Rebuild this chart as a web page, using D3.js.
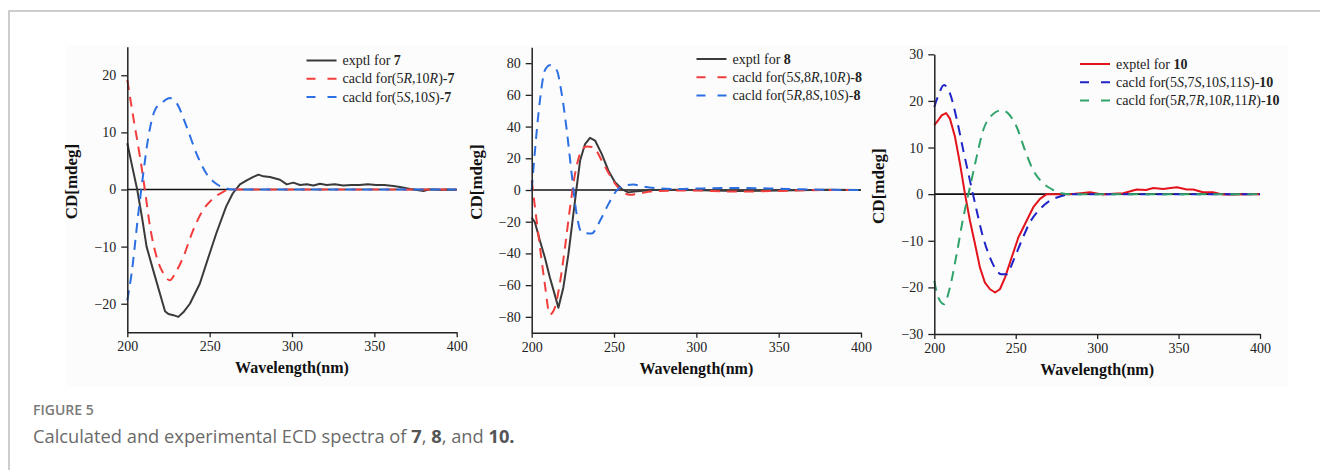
<!DOCTYPE html>
<html>
<head>
<meta charset="utf-8">
<script src="https://cdn.jsdelivr.net/npm/d3@7"></script>
<style>
  body { margin: 0; background: #fff; }
  svg { display: block; }
</style>
</head>
<body>
<div id="fig"></div>
<script>
// ---- data (wavelength nm, CD mdeg) ----
var xTicks = [200, 250, 300, 350, 400];

var exptl7 = [[200,8.1],[203,4],[206,0],[209,-5],[211.7,-10],[215.8,-14.2],[219.8,-18.2],[222.9,-21.3],[225,-21.8],[228,-22],[231,-22.3],[234,-21.5],[238,-20],[244,-16.5],[250,-11.2],[254,-7.7],[260,-3],[264,-0.7],[268.4,0.9],[272.5,1.6],[276.5,2.2],[279.6,2.6],[282.6,2.3],[286.6,2.2],[292.7,1.7],[296.8,0.9],[300.8,1.2],[304.9,0.8],[309,0.9],[313,0.7],[317,1],[321,0.8],[326,0.9],[331,0.7],[336,0.8],[341,0.8],[346,0.9],[351,0.8],[356,0.8],[361.5,0.6],[365.6,0.45],[371.7,0.1],[376,-0.1],[379.8,-0.25],[383,0],[386,0],[390,-0.1],[394,0],[400,-0.1]];
var calc7RR = [[200,19.2],[203.6,12.7],[207.7,5.7],[210.7,-0.1],[213.8,-6.5],[217.8,-11.8],[221.9,-14.7],[225.9,-15.9],[229,-14.7],[234,-11.8],[240,-7.1],[246,-3.6],[252,-1.6],[258.3,-0.4],[262,0],[280,0],[300,0],[350,0],[400,0]];
var calc7SS = [[200,-19.4],[202.6,-14.7],[206.7,-4.2],[209.7,2.8],[212.8,9.2],[216.8,13.9],[221.9,15.4],[225.9,16],[230,15.1],[236,11],[242,6.3],[248,2.8],[254,1],[260,0.2],[264,0],[280,0],[300,0],[350,0],[400,0]];

var exptl8 = [[200,-17.3],[202,-20.5],[205,-32],[208,-42.6],[211,-55],[214,-66],[216.2,-74.3],[219.2,-61.6],[222.3,-40.5],[225.3,-15.2],[227.3,1.7],[229.4,18.6],[232.4,29],[235.4,32.9],[238.5,31.2],[242.5,22.8],[246.6,12.2],[250.6,4.9],[254.7,0.6],[258.7,-1.5],[263.8,-0.8],[274,0],[290,0.2],[310,-0.3],[325,-0.6],[340,-0.4],[360,-0.2],[380,0.1],[400,0]];
var calc8a = [[200,5.9],[202,-11],[205,-36],[208,-59.5],[211,-78.5],[214,-74.3],[217,-59.5],[220.2,-36.3],[223.3,-11],[226.3,10],[229.4,22.8],[233.4,27.4],[237.4,27],[242.5,18.6],[247.6,9.1],[251.6,2.7],[255.7,-1.5],[259.7,-3],[263.8,-2.5],[271.9,-1],[284,-0.4],[300,-0.3],[320,-1],[340,-0.8],[360,-0.3],[380,0],[400,0]];
var calc8b = [[200,0],[202,25],[205,56.5],[208,75.5],[211,78.7],[215.2,75.5],[218.2,60.8],[221.3,37.6],[224.3,10],[227.3,-15.2],[230.4,-26.8],[236.4,-27.4],[241.5,-19.4],[246.6,-8.9],[251.6,-0.4],[255.7,2.7],[261.7,3.4],[267.8,2.1],[275.9,1.1],[288,0.6],[304,1],[324.5,1.3],[344.7,1],[365,0.4],[400,0]];

var exptl10 = [[200,14.8],[202.5,15.9],[204.5,16.9],[207.2,17.4],[209.6,16.2],[212.7,12.3],[215.8,6.5],[218.8,0.1],[221.9,-5.7],[225,-10.7],[228,-15.7],[231.1,-19],[234.2,-20.4],[237.3,-21.1],[240.3,-20.4],[243.4,-17.9],[247.5,-13.6],[251.6,-9.3],[255.7,-6.4],[260.8,-2.8],[264.9,-1],[269,0],[275,0],[283.3,0],[290,0.2],[295.6,0.4],[303.8,-0.1],[310,0.1],[316,0.2],[324.3,1],[330,0.9],[334.5,1.3],[340.6,1.1],[345,1.3],[349,1.5],[355,1],[359,1],[365,0.4],[371,0.4],[377.5,-0.1],[385.7,-0.1],[392,0],[400,0]];
var calc10SS = [[200,18.7],[202.5,21.2],[206,23.4],[209.6,21.6],[213.7,16.2],[217.8,9.4],[221.9,2.9],[226,-3.5],[230,-9.3],[234.2,-13.6],[238.3,-16.4],[241.3,-17.2],[244.4,-17.2],[248.5,-14.3],[253.6,-10],[258.8,-6],[264.9,-3.2],[271,-1.4],[277.2,-0.5],[283.3,0],[300,0],[350,0],[400,0]];
var calc10RR = [[200,-18.6],[202.5,-22.2],[206,-23.6],[209.6,-20],[213.7,-12.9],[217.8,-5],[221.9,1.5],[226,8],[230,13.7],[235.2,16.9],[241.3,18],[245.4,17.3],[250.6,14.4],[255.7,9.4],[260.8,5.1],[266,2.6],[272,1.1],[278.2,0.2],[283.3,0],[300,0],[350,0],[400,0]];

// legend labels: [text, style] with i = italic, b = bold
var legend7 = [
  [["exptl for ",""],["7","b"]],
  [["cacld for(5",""],["R","i"],[",10",""],["R","i"],[")-",""],["7","b"]],
  [["cacld for(5",""],["S","i"],[",10",""],["S","i"],[")-",""],["7","b"]]
];
var legend8 = [
  [["exptl for ",""],["8","b"]],
  [["cacld for(5",""],["S","i"],[",8",""],["R","i"],[",10",""],["R","i"],[")-",""],["8","b"]],
  [["cacld for(5",""],["R","i"],[",8",""],["S","i"],[",10",""],["S","i"],[")-",""],["8","b"]]
];
var legend10 = [
  [["exptel for ",""],["10","b"]],
  [["cacld for(5",""],["S","i"],[",7",""],["S","i"],[",10",""],["S","i"],[",11",""],["S","i"],[")-",""],["10","b"]],
  [["cacld for(5",""],["R","i"],[",7",""],["R","i"],[",10",""],["R","i"],[",11",""],["R","i"],[")-",""],["10","b"]]
];

var W = 1320, H = 470;
var serif = "'Liberation Serif','Times New Roman',serif";

var svg = d3.select("#fig").append("svg")
  .attr("width", W).attr("height", H);

// frame of the figure box
svg.append("path")
  .attr("d", "M9,470 L9,11 L1320,11")
  .attr("fill", "none").attr("stroke", "#bdbdbd").attr("stroke-width", 1.5);

svg.append("rect")
  .attr("x", 66).attr("y", 45).attr("width", 1222).attr("height", 342)
  .attr("fill", "#fcfcfc");

var panels = [
  {box:{l:127.3, r:456.7, t:46.7, b:332.3}, yDom:[-25,25], yTicks:[-20,-10,0,10,20],
   series:[{d:exptl7, c:"#3a3a3a", dash:null, w:2},
           {d:calc7RR, c:"#f23d3d", dash:"10,7", w:2},
           {d:calc7SS, c:"#2b6fe3", dash:"10,7", w:2}],
   legend:legend7, lg:{x:306.5, y:60.5, dy:18.3}},
  {box:{l:531.7, r:861, t:47.3, b:332.7}, yDom:[-90,90], yTicks:[-80,-60,-40,-20,0,20,40,60,80],
   series:[{d:exptl8, c:"#3a3a3a", dash:null, w:2},
           {d:calc8a, c:"#f23d3d", dash:"10,7", w:2},
           {d:calc8b, c:"#2b6fe3", dash:"10,7", w:2}],
   legend:legend8, lg:{x:696.5, y:59, dy:18.3}},
  {box:{l:934.3, r:1260, t:54.3, b:334}, yDom:[-30,30], yTicks:[-30,-20,-10,0,10,20,30],
   series:[{d:exptl10, c:"#e3131b", dash:null, w:2},
           {d:calc10SS, c:"#1f24c8", dash:"10,7", w:2},
           {d:calc10RR, c:"#2fa36b", dash:"10,7", w:2}],
   legend:legend10, lg:{x:1080, y:64, dy:18.3}}
];

function fmt(v) { return v < 0 ? "\u2212" + Math.abs(v) : String(v); }

function drawPanel(p) {
  var g = svg.append("g");
  var x = d3.scaleLinear().domain([200, 400]).range([p.box.l, p.box.r]);
  var y = d3.scaleLinear().domain(p.yDom).range([p.box.b, p.box.t]);

  // zero line
  g.append("line")
    .attr("x1", x(200)).attr("x2", x(400)).attr("y1", y(0)).attr("y2", y(0))
    .attr("stroke", "#111").attr("stroke-width", 1.6);

  var line = d3.line().x(function(d){ return x(d[0]); }).y(function(d){ return y(d[1]); });
  p.series.forEach(function(s) {
    g.append("path")
      .datum(s.d)
      .attr("d", line.curve(s.dash ? d3.curveMonotoneX : d3.curveLinear))
      .attr("fill", "none")
      .attr("stroke", s.c)
      .attr("stroke-width", s.w)
      .attr("stroke-dasharray", s.dash)
      .attr("stroke-linejoin", "round");
  });

  // axes
  var xa = g.append("g").attr("transform", "translate(0," + p.box.b + ")")
    .call(d3.axisBottom(x).tickValues(xTicks).tickSize(5).tickPadding(4).tickSizeOuter(0));
  var ya = g.append("g").attr("transform", "translate(" + p.box.l + ",0)")
    .call(d3.axisLeft(y).tickValues(p.yTicks).tickFormat(fmt).tickSize(6).tickPadding(5).tickSizeOuter(0));
  [xa, ya].forEach(function(a) {
    a.select(".domain").attr("stroke", "#222").attr("stroke-width", 1.5);
    a.selectAll(".tick line").attr("stroke", "#222").attr("stroke-width", 1.3);
    a.selectAll("text").attr("font-family", serif).attr("font-size", 14).attr("fill", "#222");
  });

  g.append("text")
    .attr("x", (p.box.l + p.box.r) / 2).attr("y", p.box.b + 41)
    .attr("text-anchor", "middle")
    .attr("font-family", serif).attr("font-weight", "bold").attr("font-size", 16)
    .attr("fill", "#111")
    .text("Wavelength(nm)");

  g.append("text")
    .attr("transform", "translate(" + (p.box.l - 50) + "," + ((p.box.t + p.box.b) / 2 - 8) + ") rotate(-90)")
    .attr("text-anchor", "middle")
    .attr("font-family", serif).attr("font-weight", "bold").attr("font-size", 17)
    .attr("fill", "#111")
    .text("CD[mdeg]");

  // legend
  p.legend.forEach(function(parts, i) {
    var s = p.series[i];
    var ly = p.lg.y + i * p.lg.dy;
    g.append("line")
      .attr("x1", p.lg.x).attr("x2", p.lg.x + 30).attr("y1", ly).attr("y2", ly)
      .attr("stroke", s.c).attr("stroke-width", 2)
      .attr("stroke-dasharray", s.dash ? "9,12" : null);
    var t = g.append("text")
      .attr("x", p.lg.x + 36).attr("y", ly + 4.5)
      .attr("font-family", serif).attr("font-size", 14).attr("fill", "#222");
    parts.forEach(function(pt) {
      t.append("tspan")
        .attr("font-style", pt[1] == "i" ? "italic" : null)
        .attr("font-weight", pt[1] == "b" ? "bold" : null)
        .text(pt[0]);
    });
  });
}

panels.forEach(drawPanel);

// caption
var sans = "'Open Sans','Noto Sans',sans-serif";
svg.append("text")
  .attr("x", 33).attr("y", 415)
  .attr("font-family", sans).attr("font-size", 14).attr("font-weight", 600)
  .attr("fill", "#7a7a7a")
  .text("FIGURE 5");

var cap = svg.append("text")
  .attr("x", 33).attr("y", 443)
  .attr("font-family", sans).attr("font-size", 18.3).attr("fill", "#6a6a6a");
var capParts = [["Calculated and experimental ECD spectra of ",""],["7","b"],[", ",""],["8","b"],[", and ",""],["10.","b"]];
capParts.forEach(function(pt) {
  cap.append("tspan")
    .attr("font-weight", pt[1] == "b" ? "bold" : null)
    .attr("fill", pt[1] == "b" ? "#555" : null)
    .text(pt[0]);
});
</script>
</body>
</html>
